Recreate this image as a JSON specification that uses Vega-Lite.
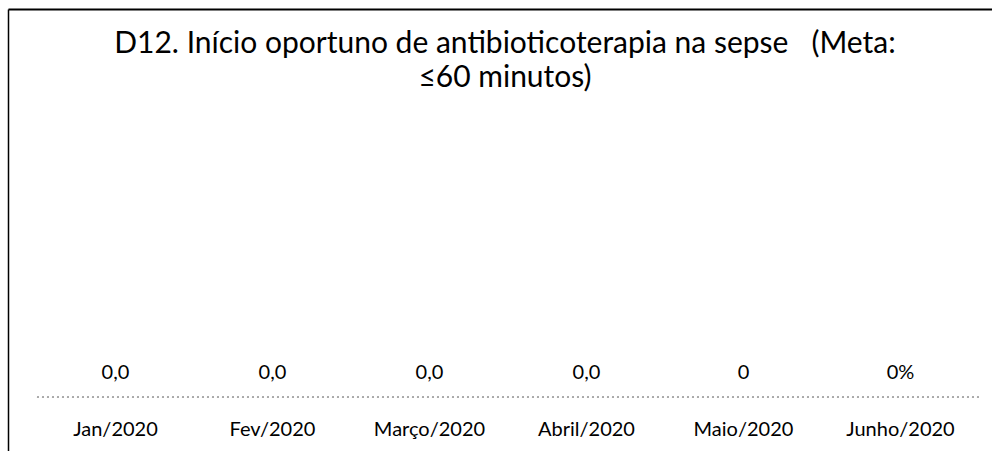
{
  "$schema": "https://vega.github.io/schema/vega-lite/v6.json",
  "width": 984,
  "height": 442,
  "autosize": "none",
  "padding": {"left": 8, "top": 9, "right": 0, "bottom": 0},
  "background": "white",
  "config": {"view": {"stroke": null}, "font": "Lato"},
  "title": {
    "text": ["D12. Início oportuno de antibioticoterapia na sepse \u00a0\u00a0(Meta:", "≤60 minutos)"],
    "font": "Lato",
    "fontSize": 30,
    "fontWeight": "normal",
    "color": "#000000",
    "anchor": "middle",
    "frame": "group",
    "baseline": "alphabetic",
    "lineHeight": 34,
    "offset": 0,
    "dy": 108,
    "dx": 5
  },
  "data": {
    "values": [
      {"mes": "Jan/2020", "valor": 0, "rotulo": "0,0"},
      {"mes": "Fev/2020", "valor": 0, "rotulo": "0,0"},
      {"mes": "Março/2020", "valor": 0, "rotulo": "0,0"},
      {"mes": "Abril/2020", "valor": 0, "rotulo": "0,0"},
      {"mes": "Maio/2020", "valor": 0, "rotulo": "0"},
      {"mes": "Junho/2020", "valor": 0, "rotulo": "0%"}
    ]
  },
  "resolve": {"axis": {"x": "independent"}},
  "layer": [
    {
      "mark": {"type": "text", "font": "Lato", "fontSize": 20, "baseline": "alphabetic", "dy": -18, "color": "#000000"},
      "encoding": {
        "x": {
          "field": "mes",
          "type": "nominal",
          "sort": null,
          "scale": {"paddingInner": 0, "paddingOuter": 0.1338, "align": 0.69},
          "axis": {
            "orient": "bottom",
            "offset": -54,
            "domain": false,
            "ticks": false,
            "tickSize": 0,
            "labelAngle": 0,
            "labelBaseline": "alphabetic",
            "labelPadding": 38.5,
            "labelFont": "Lato",
            "labelFontSize": 20,
            "labelColor": "#000000",
            "title": null,
            "grid": false
          }
        },
        "y": {
          "field": "valor",
          "type": "quantitative",
          "scale": {"domain": [-1, 7.2], "nice": false, "zero": false},
          "axis": {
            "orient": "left",
            "domain": true,
            "domainColor": "#000000",
            "domainWidth": 1.5,
            "labels": false,
            "ticks": false,
            "grid": false,
            "title": null
          }
        },
        "text": {"field": "rotulo"}
      }
    },
    {
      "mark": {"type": "rule", "color": "#aaaaaa", "strokeDash": [2, 3], "strokeWidth": 1},
      "encoding": {
        "x": {
          "datum": "Jan/2020",
          "type": "nominal",
          "bandPosition": 0,
          "axis": {
            "orient": "top",
            "domain": true,
            "domainColor": "#000000",
            "domainWidth": 2,
            "labels": false,
            "ticks": false,
            "grid": false,
            "title": null
          }
        },
        "x2": {"datum": "Junho/2020", "bandPosition": 1},
        "y": {"datum": 0, "type": "quantitative"}
      }
    }
  ]
}
